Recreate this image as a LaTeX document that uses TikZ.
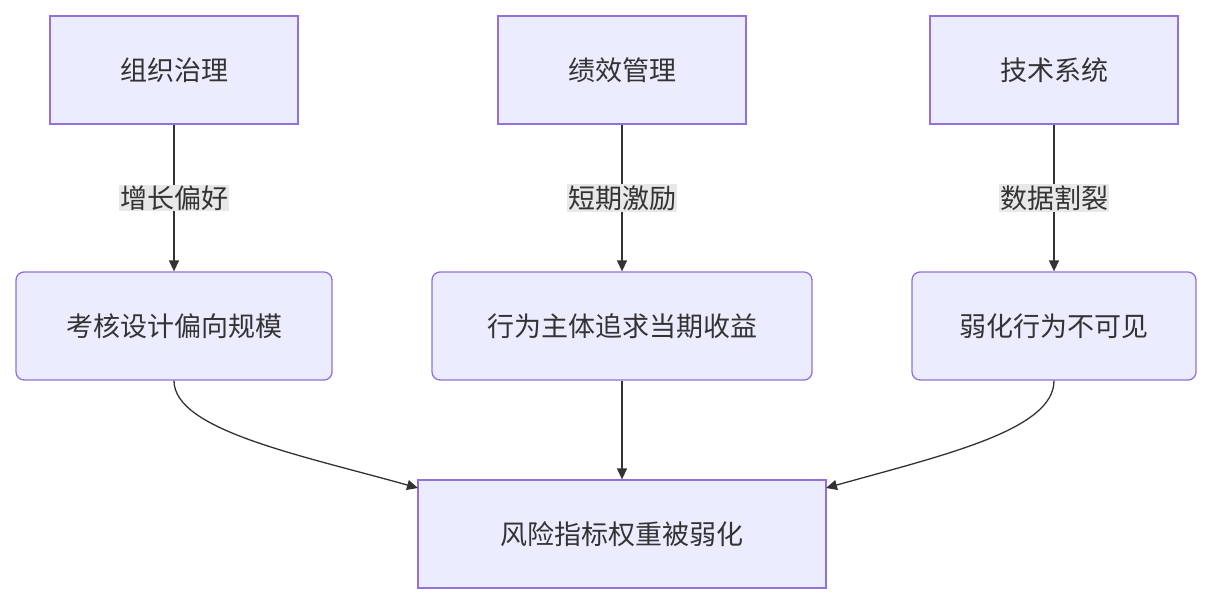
\documentclass[tikz,border=0pt]{standalone}
\usepackage{fontspec}
\setmainfont{Noto Sans CJK SC}
\usetikzlibrary{arrows.meta}
\definecolor{nf}{HTML}{ECECFF}
\definecolor{ns}{HTML}{9370DB}
\definecolor{tx}{HTML}{333333}
\definecolor{lb}{HTML}{E8E8E8}
\begin{document}
\begin{tikzpicture}[x=1pt,y=-1pt,
 box/.style={draw=ns,fill=nf,line width=1.3pt,text=tx,font=\fontsize{27}{30}\selectfont,inner sep=0pt},
 lab/.style={fill=lb,text=tx,font=\fontsize{27}{30}\selectfont,inner sep=1pt},
 ar/.style={draw=tx,line width=1.3pt,-{Triangle[length=11pt,width=10pt]}}]
\useasboundingbox (0,0) rectangle (1212,604);
\node[box,minimum width=248pt,minimum height=108pt] (a) at (174,70) {组织治理};
\node[box,minimum width=248pt,minimum height=108pt] (b) at (622,70) {绩效管理};
\node[box,minimum width=248pt,minimum height=108pt] (c) at (1054,70) {技术系统};
\node[box,rounded corners=8pt,minimum width=316pt,minimum height=108pt] (d) at (174,326) {考核设计偏向规模};
\node[box,rounded corners=8pt,minimum width=380pt,minimum height=108pt] (e) at (622,326) {行为主体追求当期收益};
\node[box,rounded corners=8pt,minimum width=284pt,minimum height=108pt] (f) at (1054,326) {弱化行为不可见};
\node[box,minimum width=408pt,minimum height=108pt] (g) at (622,534) {风险指标权重被弱化};
\draw[ar] (a) -- node[lab]{增长偏好} (d);
\draw[ar] (b) -- node[lab]{短期激励} (e);
\draw[ar] (c) -- node[lab]{数据割裂} (f);
\draw[ar] (e) -- (g);
\coordinate (gl) at (418,488);
\coordinate (gr) at (826,488);
\draw[ar] (d.south) .. controls (174,430) and (300,455) .. (gl);
\draw[ar] (f.south) .. controls (1054,430) and (944,455) .. (gr);
\end{tikzpicture}
\end{document}
